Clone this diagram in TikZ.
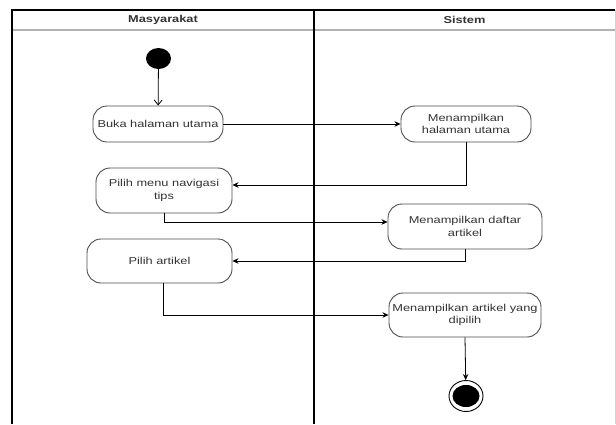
\documentclass[tikz,border=0pt]{standalone}
\usepackage{fontspec}
\setmainfont[FakeStretch=1.28]{Liberation Sans}
\usetikzlibrary{arrows.meta,shapes.geometric}
\definecolor{txt}{HTML}{333333}
\definecolor{brd}{HTML}{4D4D4D}
\begin{document}
\begin{tikzpicture}[x=1pt,y=-1pt,
  act/.style={draw=brd, line width=0.9pt, rounded corners=14pt, fill=white, align=center,
    text=txt, font=\fontsize{10}{12.3}\selectfont, inner sep=1pt},
  flow/.style={draw=black, line width=0.8pt, -{Stealth[length=6pt,width=5.5pt]}},
  openflow/.style={draw=black, line width=0.8pt, -{Straight Barb[length=5pt,width=8pt]}},
  lane/.style={draw=black, line width=1.1pt},
  hdr/.style={text=txt, font=\fontsize{10}{12}\selectfont\bfseries}]
\useasboundingbox (0,0) rectangle (616,424);
% swimlanes
\draw[gray!60, line width=1.3pt] (12,30) -- (615,30);
\draw[gray!35, line width=0.8pt] (615,10) -- (615,424);
\draw[lane] (12,424) -- (12,10) -- (615,10);
\draw[lane] (314,10) -- (314,424);
\node[hdr] (h1) at (163,20) {Masyarakat};
\node[hdr] (h2) at (464.5,20) {Sistem};
% nodes
\node[ellipse, fill=black, minimum width=25pt, minimum height=21pt, inner sep=0pt] (start) at (158.5,58.5) {};
\node[act, minimum width=130pt, minimum height=36pt] (n1) at (158,124) {Buka halaman utama};
\node[act, minimum width=130pt, minimum height=36pt] (n2) at (466,124) {Menampilkan\\halaman utama};
\node[act, minimum width=136pt, minimum height=45pt] (n3) at (164,190.5) {Pilih menu navigasi\\tips};
\node[act, minimum width=154pt, minimum height=45pt] (n5) at (465,226.5) {Menampilkan daftar\\artikel};
\node[act, minimum width=145pt, minimum height=44pt] (n4) at (159.5,261) {Pilih artikel};
\node[act, minimum width=152pt, minimum height=44pt] (n6) at (465,315) {Menampilkan artikel yang\\dipilih};
\node[ellipse, draw=black, line width=0.9pt, fill=white, minimum width=34pt, minimum height=31pt, inner sep=0pt] (end) at (466,396) {};
\fill[black] (end.center) ellipse [x radius=13.5, y radius=11];
% connectors
\draw[openflow] (start) -- (n1);
\draw[flow] (n1) -- (n2);
\draw[flow] (n2.south) |- ([yshift=5.5pt]n3.east);
\draw[flow] (n3.south) |- ([yshift=4.5pt]n5.west);
\draw[flow] (n5.south) |- (n4.east);
\draw[flow] ([xshift=3.5pt]n4.south) |- (n6.west);
\draw[flow] (n6.south) -- (end);
\end{tikzpicture}
\end{document}
